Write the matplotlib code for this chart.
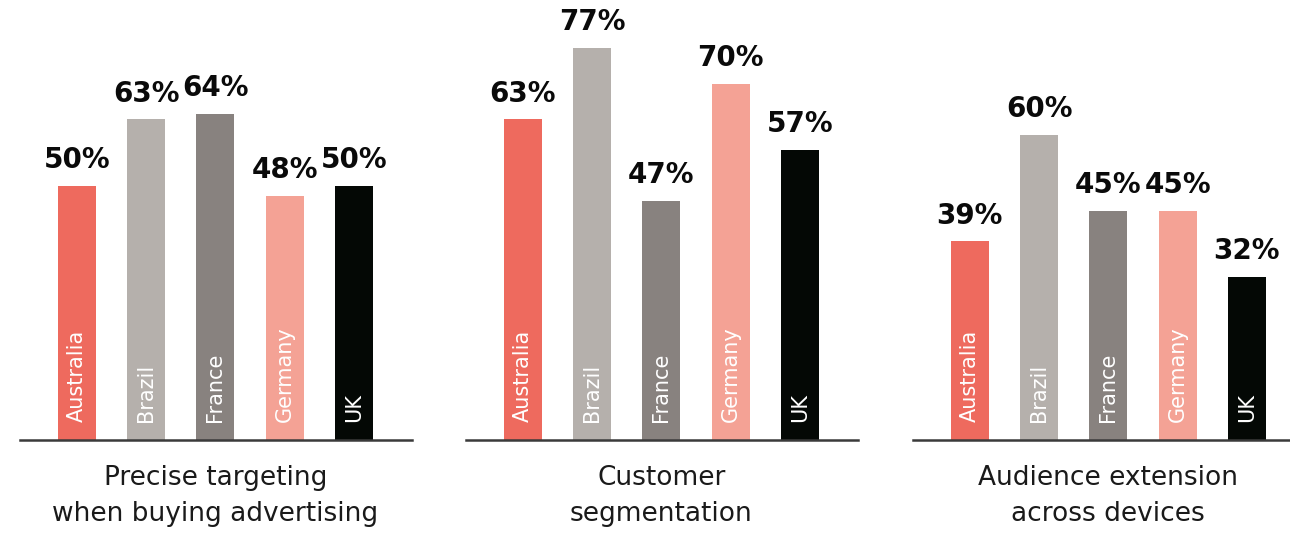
import matplotlib
matplotlib.use("Agg")
import matplotlib.pyplot as plt

# data
countries = ["Australia", "Brazil", "France", "Germany", "UK"]
titles = ["Precise targeting\nwhen buying advertising",
          "Customer\nsegmentation",
          "Audience extension\nacross devices"]
precise = [50, 63, 64, 48, 50]
segmentation = [63, 77, 47, 70, 57]
extension = [39, 60, 45, 45, 32]
colors = ["#EE6A5E", "#B5B0AC", "#88827F", "#F4A295", "#040805"]

W, H = 1290, 534
fig = plt.figure(figsize=(W / 100, H / 100), dpi=100)
plt.rcParams['font.family'] = ['DejaVu Sans']

base_y = 440          # baseline pixel row
px_per_pct = 5.09
ymax = 88
panel_left = [20, 466, 913]
panel_w = 392

for left, title, vals in zip(panel_left, titles, [precise, segmentation, extension]):
    ax = fig.add_axes([left / W, (H - base_y) / H, panel_w / W, ymax * px_per_pct / H])
    x = list(range(len(countries)))
    ax.bar(x, vals, width=0.55, color=colors)
    ax.set_xlim(-0.82, 4.84)
    ax.set_ylim(0, ymax)
    ax.axhline(0, color="#3a3a3a", lw=1.8, clip_on=False)
    for s in ax.spines.values():
        s.set_visible(False)
    ax.set_xticks([])
    ax.set_yticks([])
    ax.patch.set_alpha(0)
    for xi, v, c in zip(x, vals, countries):
        ax.annotate(f"{v}%", (xi, v), xytext=(0, 8.5), textcoords="offset points",
                    ha="center", va="bottom", fontsize=20, fontweight="bold",
                    color="#0a0a0a", annotation_clip=False)
        ax.annotate(c, (xi, 0), xytext=(0, 13), textcoords="offset points",
                    ha="center", va="bottom", rotation=90, fontsize=15,
                    color="white")
    ax.text(2, -25 / px_per_pct, title, ha="center", va="top",
            fontsize=19, color="#1a1a1a", linespacing=1.52)

fig.savefig("out.png", dpi=100)
